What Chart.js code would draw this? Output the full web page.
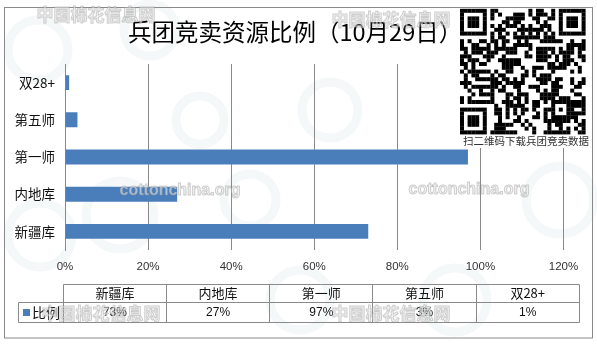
<!DOCTYPE html>
<html>
<head>
<meta charset="utf-8">
<script src="https://cdn.jsdelivr.net/npm/chart.js@4.4.1/dist/chart.umd.min.js"></script>
<style>
  html, body { margin: 0; padding: 0; background: #fff; }
  canvas { display: block; }
</style>
</head>
<body>
<canvas id="c" width="597" height="345"></canvas>
<script>
// ---- data ----
const chartTitle = '兵团竞卖资源比例（10月29日）';
const categories = ['新疆库', '内地库', '第一师', '第五师', '双28+'];
const seriesName = '比例';
const shares = [73, 27, 97, 3, 1];          // percent
const axisTicks = [0, 20, 40, 60, 80, 100, 120];
const qrCaption = '扫二维码下载兵团竞卖数据';
const siteMarkCn = '中国棉花信息网';
const siteMarkEn = 'cottonchina.org';

// ---- styling ----
const CJK = '"Noto Sans CJK SC", "Noto Sans", sans-serif';
const LATIN = '"Liberation Sans", Arial, sans-serif';
const BAR_BLUE = '#4A7EBB';
const LINE_GREY = '#8a8a8a';

function crisp(v) { return Math.round(v - 0.5) + 0.5; }

// faint ring logos behind the chart + outer frame
const backdrop = {
  id: 'backdrop',
  beforeDraw(chart) {
    const ctx = chart.ctx;
    ctx.save();
    ctx.fillStyle = '#fff';
    ctx.fillRect(0, 0, chart.width, chart.height);
    ctx.strokeStyle = 'rgba(205,222,222,0.22)';
    ctx.lineWidth = 9;
    [[38, 50, 30], [150, 30, 26], [120, 215, 34], [40, 235, 32],
     [300, 300, 30], [455, 300, 32], [560, 200, 34], [330, 110, 28],
     [250, 200, 26], [200, 120, 24]].forEach(([x, y, r]) => {
      ctx.beginPath();
      ctx.arc(x, y, r, 0, Math.PI * 2);
      ctx.stroke();
    });
    ctx.restore();
  },
  afterDraw(chart) {
    const ctx = chart.ctx;
    ctx.save();
    ctx.strokeStyle = LINE_GREY;
    ctx.lineWidth = 1;
    ctx.strokeRect(4.5, 7.5, 588, 330.5);
    ctx.restore();
  }
};

// title, data table, site marks and QR block
const overlay = {
  id: 'overlay',
  afterDraw(chart) {
    const ctx = chart.ctx;
    ctx.save();

    // title
    ctx.fillStyle = '#000';
    ctx.font = '23.5px ' + CJK;
    ctx.textAlign = 'left';
    ctx.textBaseline = 'middle';
    ctx.fillText(chartTitle, 128, 32.5);

    // data table
    const x0 = 63.3, colW = 103.2, n = categories.length;
    const xEnd = x0 + n * colW;
    const yTop = 284.5, yMid = 302.5, yBot = 322.5, legLeft = 18.5;
    ctx.strokeStyle = LINE_GREY;
    ctx.lineWidth = 1;
    ctx.beginPath();
    ctx.moveTo(crisp(x0), yTop); ctx.lineTo(crisp(xEnd), yTop);
    ctx.moveTo(legLeft, yMid); ctx.lineTo(crisp(xEnd), yMid);
    ctx.moveTo(legLeft, yBot); ctx.lineTo(crisp(xEnd), yBot);
    ctx.moveTo(legLeft, yMid); ctx.lineTo(legLeft, yBot);
    for (let i = 0; i <= n; i++) {
      const x = crisp(x0 + i * colW);
      ctx.moveTo(x, yTop); ctx.lineTo(x, yBot);
    }
    ctx.stroke();

    ctx.textAlign = 'center';
    ctx.textBaseline = 'middle';
    ctx.fillStyle = '#111';
    categories.forEach((c, i) => {
      ctx.font = '13px ' + CJK;
      ctx.fillText(c, x0 + (i + 0.5) * colW, 293.5);
      ctx.font = '12px ' + LATIN;
      ctx.fillText(Math.round(shares[i]) + '%', x0 + (i + 0.5) * colW, 313);
    });
    // legend key
    ctx.fillStyle = BAR_BLUE;
    ctx.fillRect(23, 309, 7, 7);
    ctx.fillStyle = '#111';
    ctx.textAlign = 'left';
    ctx.font = '14px ' + CJK;
    ctx.fillText(seriesName, 32, 312.5);

    // site marks
    const mark = (text, cx, cy, font) => {
      ctx.font = font;
      ctx.textAlign = 'center';
      ctx.textBaseline = 'middle';
      ctx.fillStyle = 'rgba(236,236,236,0.6)';
      ctx.fillText(text, cx, cy);
      ctx.strokeStyle = 'rgba(140,140,140,0.4)';
      ctx.lineWidth = 1;
      ctx.strokeText(text, cx, cy);
    };
    const cnFont = 'bold 17px ' + CJK;
    const enFont = 'bold 16px ' + LATIN;
    mark(siteMarkCn, 96, 15, cnFont);
    mark(siteMarkCn, 391, 20, cnFont);
    mark(siteMarkCn, 101, 314, cnFont);
    mark(siteMarkCn, 391, 314, cnFont);
    mark(siteMarkEn, 180, 191, enFont);
    mark(siteMarkEn, 469, 190, enFont);

    // QR block
    const N = 33, m = 3.8, qx = 460, qy = 8.8;
    ctx.fillStyle = '#fff';
    ctx.fillRect(456, 8, 136, 140);
    const finder = (r, c) => {
      const rr = [[0, 0], [0, N - 7], [N - 7, 0]];
      for (const [fr, fc] of rr) {
        if (r >= fr - 1 && r <= fr + 7 && c >= fc - 1 && c <= fc + 7) {
          const a = r - fr, b = c - fc;
          if (a < 0 || a > 6 || b < 0 || b > 6) return 0;
          if (a === 0 || a === 6 || b === 0 || b === 6) return 1;
          if (a >= 2 && a <= 4 && b >= 2 && b <= 4) return 1;
          return 0;
        }
      }
      // alignment pattern
      const ar = r - 26, ac = c - 26;
      if (Math.abs(ar) <= 2 && Math.abs(ac) <= 2) {
        const d = Math.max(Math.abs(ar), Math.abs(ac));
        return d === 1 ? 0 : 1;
      }
      if (r === 6) return c % 2 === 0 ? 1 : 0;
      if (c === 6) return r % 2 === 0 ? 1 : 0;
      return -1;
    };
    ctx.fillStyle = '#000';
    for (let r = 0; r < N; r++) {
      for (let c = 0; c < N; c++) {
        let v = finder(r, c);
        if (v < 0) {
          let h = Math.imul(r * 37 + c * 101 + 7, 0x9E3779B1);
          h ^= h >>> 15; h = Math.imul(h, 0x85EBCA77); h ^= h >>> 13;
          v = (h >>> 3) & 1;
        }
        if (v) ctx.fillRect(qx + c * m, qy + r * m, m + 0.2, m + 0.2);
      }
    }
    ctx.fillStyle = '#333';
    ctx.font = '10.5px ' + CJK;
    ctx.textAlign = 'left';
    ctx.textBaseline = 'middle';
    ctx.fillText(qrCaption, 463, 141.5);

    ctx.restore();
  }
};

new Chart(document.getElementById('c'), {
  type: 'bar',
  data: {
    labels: categories,
    datasets: [{
      label: seriesName,
      data: shares,
      backgroundColor: BAR_BLUE,
      borderWidth: 0,
      categoryPercentage: 1,
      barPercentage: 0.4
    }]
  },
  options: {
    indexAxis: 'y',
    responsive: false,
    animation: false,
    events: [],
    layout: { padding: { left: 0, right: 33.5, top: 64, bottom: 65 } },
    plugins: {
      legend: { display: false },
      title: { display: false },
      tooltip: { enabled: false }
    },
    scales: {
      x: {
        min: axisTicks[0],
        max: axisTicks[axisTicks.length - 1],
        afterBuildTicks(scale) { scale.ticks = axisTicks.map(v => ({ value: v })); },
        afterFit(scale) { scale.height = 30; },
        grid: { color: LINE_GREY, lineWidth: 1, drawTicks: false },
        border: { display: false },
        ticks: {
          padding: 10,
          color: '#333',
          font: { family: LATIN, size: 11.5 },
          callback: v => v + '%'
        }
      },
      y: {
        reverse: true,
        afterFit(scale) { scale.width = 65; },
        grid: { display: false, drawTicks: false },
        border: { display: true, color: LINE_GREY, width: 1 },
        ticks: {
          padding: 10,
          color: '#111',
          font: { family: CJK, size: 13.5 }
        }
      }
    }
  },
  plugins: [backdrop, overlay]
});
</script>
</body>
</html>
